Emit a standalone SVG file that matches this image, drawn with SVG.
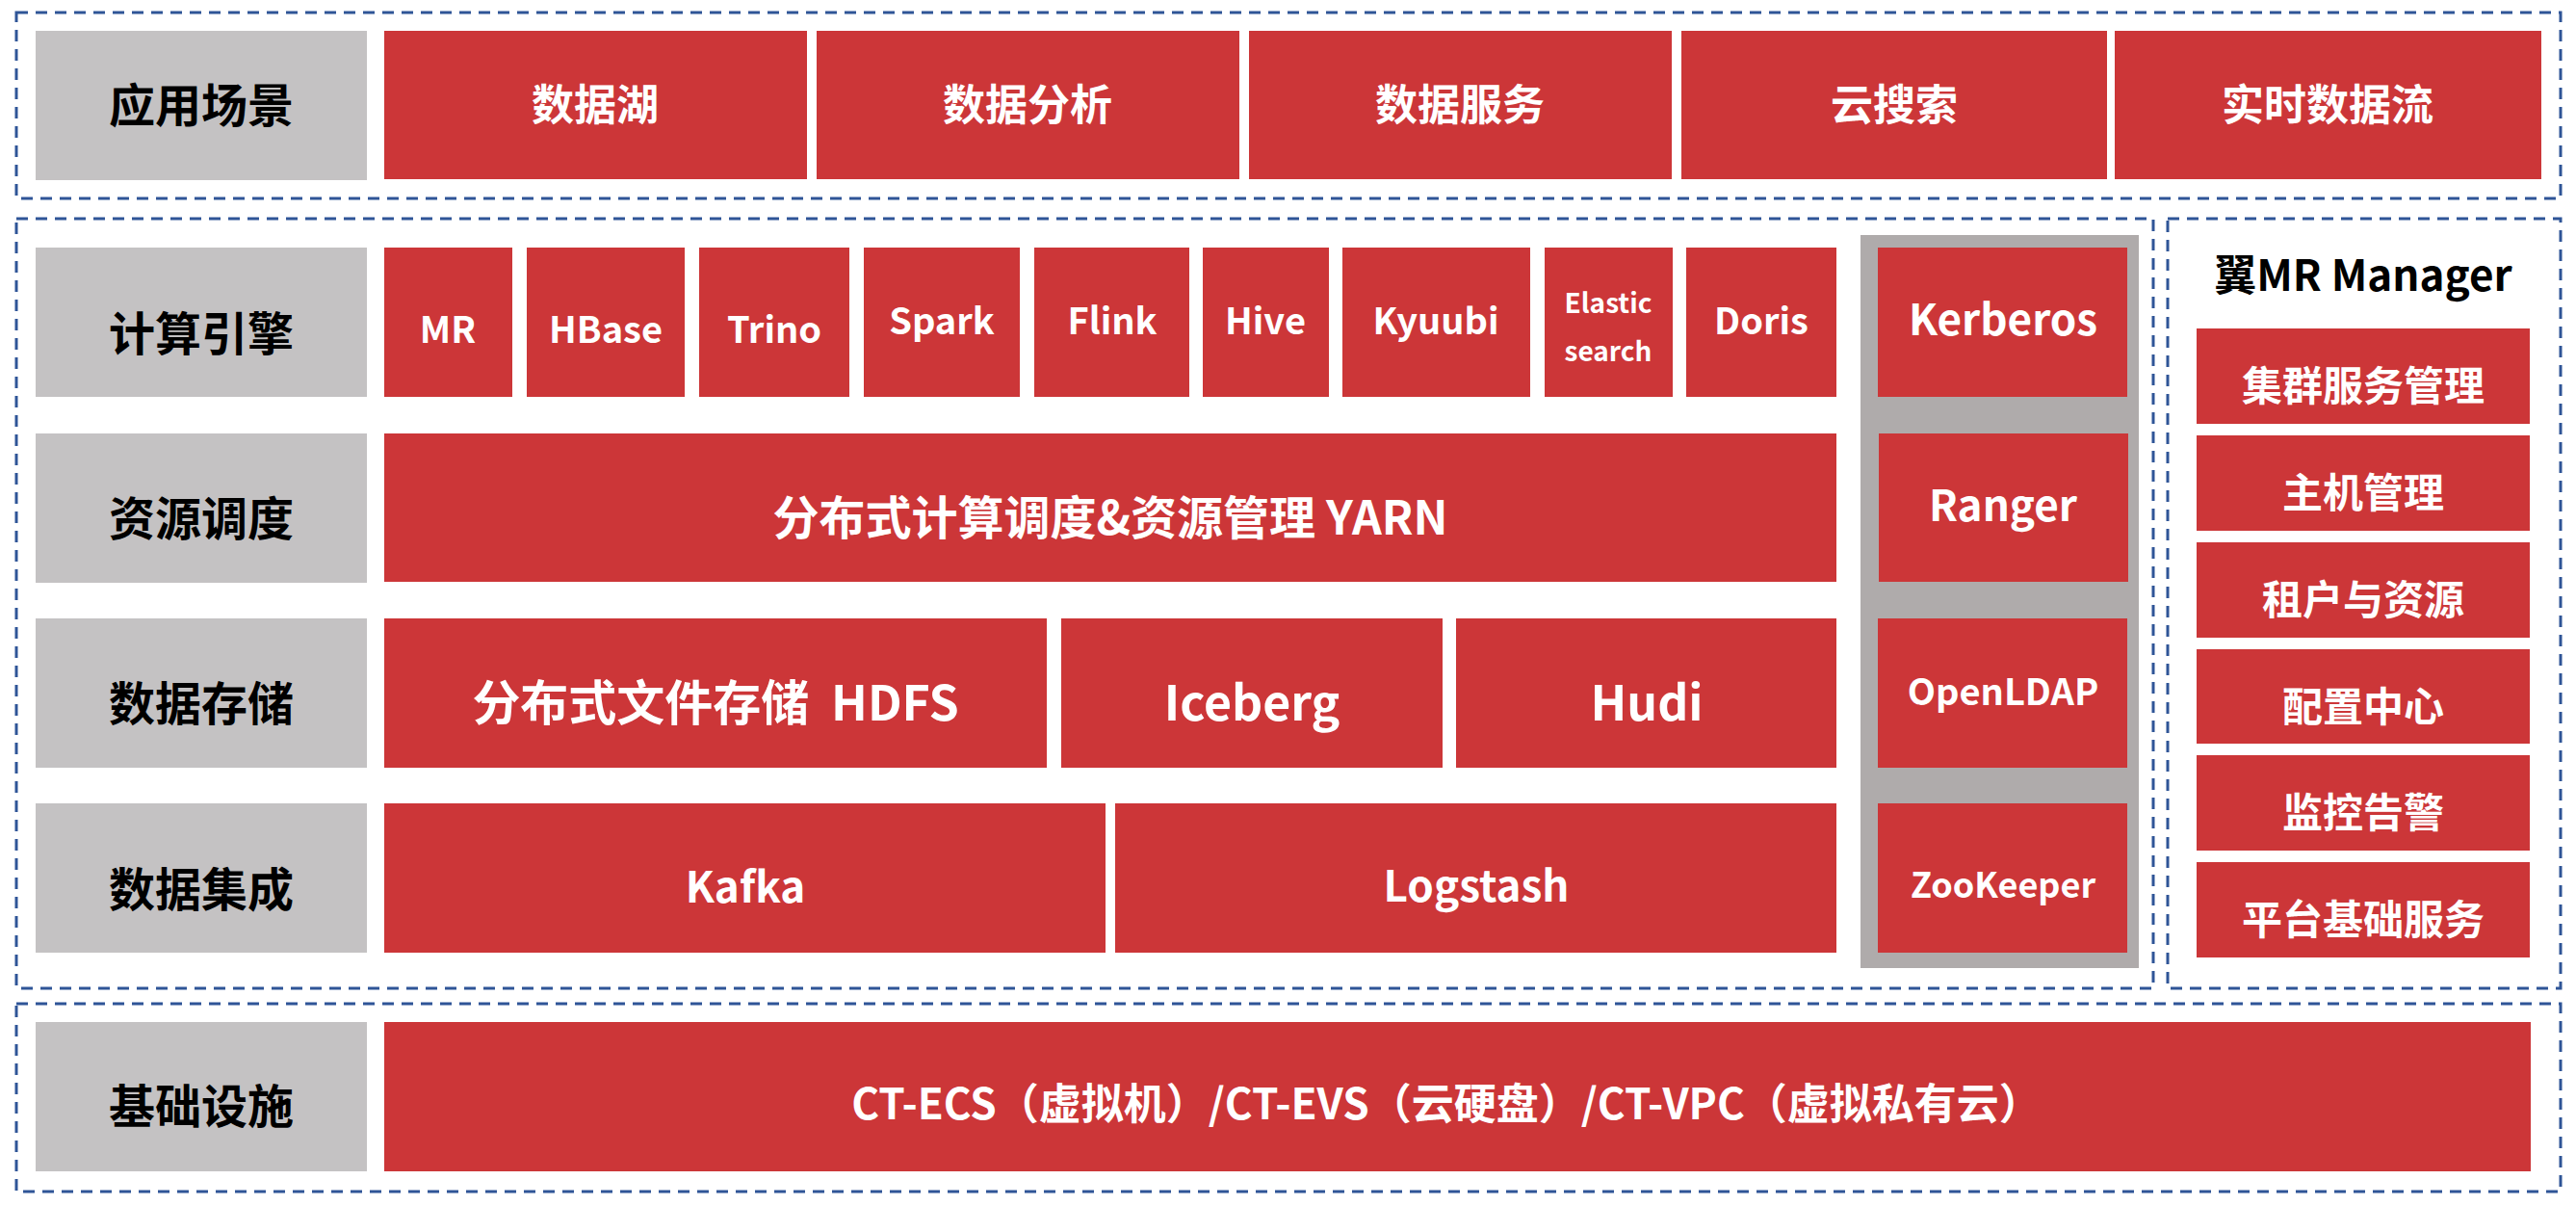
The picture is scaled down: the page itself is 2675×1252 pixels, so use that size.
<svg xmlns="http://www.w3.org/2000/svg" width="2675" height="1252" viewBox="0 0 2675 1252">
<style>
.frame{fill:none;stroke:#2F5597;stroke-width:3;stroke-dasharray:12 8}
.lab{fill:#C4C2C3}
.red{fill:#CC3638}
.sec{fill:#AFABAB}
text{font-family:"Noto Sans CJK SC","Noto Sans",sans-serif;font-weight:700;text-anchor:middle}
.lt{fill:#000;font-size:48px}
.wt{fill:#fff}
.f44{font-size:44px}
.f42{font-size:42px}
.f38{font-size:38px}
.f36{font-size:36px}
.f28{font-size:28px}
.f48{font-size:48px}
.f50{font-size:50px}
</style>
<rect width="2675" height="1252" fill="#fff"/>
<g id="frames">
<rect class="frame" x="17" y="13" width="2642" height="193"/>
<rect class="frame" x="17" y="227" width="2219" height="799"/>
<rect class="frame" x="2251" y="227" width="408" height="799"/>
<rect class="frame" x="17" y="1042" width="2642" height="195"/>
</g>
<g id="row-app">
<g id="lab-app"><rect class="lab" x="37" y="32" width="344" height="155"/><text class="lt" x="209" y="127">应用场景</text></g>
<g id="app-1"><rect class="red" x="399" y="32" width="439" height="154"/><text class="wt f44" x="618" y="125">数据湖</text></g>
<g id="app-2"><rect class="red" x="848" y="32" width="439" height="154"/><text class="wt f44" x="1067" y="125">数据分析</text></g>
<g id="app-3"><rect class="red" x="1297" y="32" width="439" height="154"/><text class="wt f44" x="1516" y="125">数据服务</text></g>
<g id="app-4"><rect class="red" x="1746" y="32" width="442" height="154"/><text class="wt f44" x="1967" y="125">云搜索</text></g>
<g id="app-5"><rect class="red" x="2196" y="32" width="443" height="154"/><text class="wt f44" x="2417" y="125">实时数据流</text></g>
</g>
<g id="row-compute">
<g id="lab-compute"><rect class="lab" x="37" y="257" width="344" height="155"/><text class="lt" x="209" y="364">计算引擎</text></g>
<g id="mr"><rect class="red" x="399" y="257" width="133" height="155"/><text class="wt f38" x="465" y="356">MR</text></g>
<g id="hbase"><rect class="red" x="547" y="257" width="164" height="155"/><text class="wt f38" x="629" y="356">HBase</text></g>
<g id="trino"><rect class="red" x="726" y="257" width="156" height="155"/><text class="wt f38" x="804" y="356">Trino</text></g>
<g id="spark"><rect class="red" x="897" y="257" width="162" height="155"/><text class="wt f38" x="978" y="347">Spark</text></g>
<g id="flink"><rect class="red" x="1074" y="257" width="161" height="155"/><text class="wt f38" x="1155" y="347">Flink</text></g>
<g id="hive"><rect class="red" x="1249" y="257" width="131" height="155"/><text class="wt f38" x="1314" y="347">Hive</text></g>
<g id="kyuubi"><rect class="red" x="1394" y="257" width="195" height="155"/><text class="wt f38" x="1491" y="347">Kyuubi</text></g>
<g id="es"><rect class="red" x="1604" y="257" width="133" height="155"/><text class="wt f28" x="1670" y="325">Elastic</text><text class="wt f28" x="1670" y="375">search</text></g>
<g id="doris"><rect class="red" x="1751" y="257" width="156" height="155"/><text class="wt f38" x="1829" y="347">Doris</text></g>
</g>
<g id="row-res">
<g id="lab-res"><rect class="lab" x="37" y="450" width="344" height="155"/><text class="lt" x="209" y="556">资源调度</text></g>
<g id="yarn"><rect class="red" x="399" y="450" width="1508" height="154"/><text class="wt f48" x="1153" y="555">分布式计算调度&amp;资源管理 YARN</text></g>
</g>
<g id="row-store">
<g id="lab-store"><rect class="lab" x="37" y="642" width="344" height="155"/><text class="lt" x="209" y="748">数据存储</text></g>
<g id="hdfs"><rect class="red" x="399" y="642" width="688" height="155"/><text class="wt f50" x="743" y="748">分布式文件存储&#160; HDFS</text></g>
<g id="iceberg"><rect class="red" x="1102" y="642" width="396" height="155"/><text class="wt f50" x="1300" y="748">Iceberg</text></g>
<g id="hudi"><rect class="red" x="1512" y="642" width="395" height="155"/><text class="wt f50" x="1710" y="748">Hudi</text></g>
</g>
<g id="row-int">
<g id="lab-int"><rect class="lab" x="37" y="834" width="344" height="155"/><text class="lt" x="209" y="941">数据集成</text></g>
<g id="kafka"><rect class="red" x="399" y="834" width="749" height="155"/><text class="wt f44" x="774" y="937">Kafka</text></g>
<g id="logstash"><rect class="red" x="1158" y="834" width="749" height="155"/><text class="wt f44" x="1533" y="936">Logstash</text></g>
</g>
<g id="security">
<rect class="sec" x="1932" y="244" width="289" height="761"/>
<g id="kerberos"><rect class="red" x="1950" y="257" width="259" height="155"/><text class="wt f44" x="2080" y="348">Kerberos</text></g>
<g id="ranger"><rect class="red" x="1951" y="450" width="259" height="154"/><text class="wt f44" x="2080" y="541">Ranger</text></g>
<g id="openldap"><rect class="red" x="1950" y="642" width="259" height="155"/><text class="wt f38" x="2080" y="732">OpenLDAP</text></g>
<g id="zookeeper"><rect class="red" x="1950" y="834" width="259" height="155"/><text class="wt f36" x="2080" y="932">ZooKeeper</text></g>
</g>
<g id="manager">
<text x="2454" y="302" style="font-size:44px;fill:#000">翼MR Manager</text>
<g id="m1"><rect class="red" x="2281" y="341" width="346" height="99"/><text class="wt f42" x="2454" y="416">集群服务管理</text></g>
<g id="m2"><rect class="red" x="2281" y="452" width="346" height="99"/><text class="wt f42" x="2454" y="527">主机管理</text></g>
<g id="m3"><rect class="red" x="2281" y="563" width="346" height="99"/><text class="wt f42" x="2454" y="638">租户与资源</text></g>
<g id="m4"><rect class="red" x="2281" y="674" width="346" height="98"/><text class="wt f42" x="2454" y="749">配置中心</text></g>
<g id="m5"><rect class="red" x="2281" y="784" width="346" height="99"/><text class="wt f42" x="2454" y="859">监控告警</text></g>
<g id="m6"><rect class="red" x="2281" y="895" width="346" height="99"/><text class="wt f42" x="2454" y="970">平台基础服务</text></g>
</g>
<g id="row-infra">
<g id="lab-infra"><rect class="lab" x="37" y="1061" width="344" height="155"/><text class="lt" x="209" y="1166">基础设施</text></g>
<g id="infra"><rect class="red" x="399" y="1061" width="2229" height="155"/><text class="wt f44" x="1502" y="1162">CT-ECS（虚拟机）/CT-EVS（云硬盘）/CT-VPC（虚拟私有云）</text></g>
</g>
<g id="connectors"></g>
</svg>
